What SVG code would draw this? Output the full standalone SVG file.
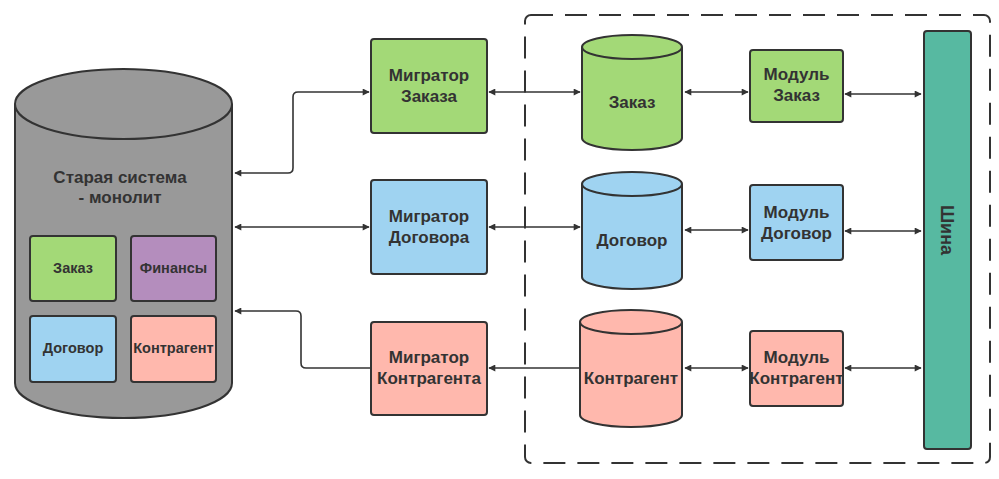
<svg xmlns="http://www.w3.org/2000/svg" width="999" height="479" viewBox="0 0 999 479">
<defs>
<marker id="ah" viewBox="0 0 10 10" refX="9" refY="5" markerWidth="10" markerHeight="7" markerUnits="userSpaceOnUse" orient="auto-start-reverse">
<path d="M0,0 L10,5 L0,10 z" fill="#333"/>
</marker>
<style>
.s{stroke:#333;stroke-width:2}
.g{fill:#a3d977}
.b{fill:#9fd3f1}
.p{fill:#ffb8ad}
.v{fill:#b48dbd}
.t{font-family:"Liberation Sans",Arial,sans-serif;font-weight:bold;font-size:17px;fill:#333;text-anchor:middle}
.sm{font-size:14.5px}
.c{fill:none;stroke:#333;stroke-width:1.6}
</style>
</defs>
<rect width="999" height="479" fill="#fff"/>
<rect x="525" y="15" width="465" height="448" rx="6" fill="none" stroke="#333" stroke-width="2" stroke-dasharray="22,12"/>
<g id="monolith">
<path class="s" fill="#999" d="M15,104 V383 A108.5,35 0 0 0 232,383 V104 A108.5,35 0 0 0 15,104 Z"/>
<path class="s" fill="none" d="M15,104 A108.5,35 0 0 0 232,104"/>
<text class="t" x="120" y="183">Старая система</text>
<text class="t" x="120" y="203">- монолит</text>
</g>
<g id="m-zakaz"><rect class="s g" x="30" y="236" width="86" height="65" rx="3"/><text class="t sm" x="73" y="273">Заказ</text></g>
<g id="m-finansy"><rect class="s v" x="131" y="236" width="85" height="65" rx="3"/><text class="t sm" x="173.5" y="273">Финансы</text></g>
<g id="m-dogovor"><rect class="s b" x="30" y="316" width="86" height="66" rx="3"/><text class="t sm" x="73" y="353">Договор</text></g>
<g id="m-kontragent"><rect class="s p" x="131" y="316" width="85" height="66" rx="3"/><text class="t sm" x="173.5" y="353">Контрагент</text></g>
<g id="mig-zakaz"><rect class="s g" x="371" y="39" width="116" height="94" rx="3"/><text class="t" x="429" y="81">Мигратор</text><text class="t" x="429" y="102">Заказа</text></g>
<g id="mig-dogovor"><rect class="s b" x="371" y="180" width="116" height="94" rx="3"/><text class="t" x="429" y="222">Мигратор</text><text class="t" x="429" y="243">Договора</text></g>
<g id="mig-kontragent"><rect class="s p" x="371" y="322" width="116" height="93" rx="3"/><text class="t" x="429" y="363">Мигратор</text><text class="t" x="429" y="384">Контрагента</text></g>
<g id="db-zakaz"><path class="s g" d="M582,47 V138 A50,12 0 0 0 682,138 V47 A50,12 0 0 0 582,47 Z"/><path class="s" fill="none" d="M582,47 A50,12 0 0 0 682,47"/><text class="t" x="632" y="108">Заказ</text></g>
<g id="db-dogovor"><path class="s b" d="M582,184 V277 A50,12 0 0 0 682,277 V184 A50,12 0 0 0 582,184 Z"/><path class="s" fill="none" d="M582,184 A50,12 0 0 0 682,184"/><text class="t" x="632" y="246">Договор</text></g>
<g id="db-kontragent"><path class="s p" d="M580,322 V415 A51,12 0 0 0 682,415 V322 A51,12 0 0 0 580,322 Z"/><path class="s" fill="none" d="M580,322 A51,12 0 0 0 682,322"/><text class="t" x="631" y="384">Контрагент</text></g>
<g id="mod-zakaz"><rect class="s g" x="750" y="50" width="93" height="72" rx="3"/><text class="t" x="796.5" y="80">Модуль</text><text class="t" x="796.5" y="101">Заказ</text></g>
<g id="mod-dogovor"><rect class="s b" x="750" y="185" width="93" height="75" rx="3"/><text class="t" x="796.5" y="218">Модуль</text><text class="t" x="796.5" y="239">Договор</text></g>
<g id="mod-kontragent"><rect class="s p" x="750" y="331" width="93" height="75" rx="3"/><text class="t" x="796.5" y="363">Модуль</text><text class="t" x="796.5" y="384">Контрагент</text></g>
<g id="bus"><rect class="s" fill="#57b9a1" x="924" y="31" width="47" height="418" rx="3"/><text class="t" style="font-size:18px" transform="translate(941,230) rotate(90)" x="0" y="0">Шина</text></g>
<g id="connectors">
<path class="c" marker-start="url(#ah)" marker-end="url(#ah)" d="M235,173 H288 Q293,173 293,168 V97 Q293,92 298,92 H369"/>
<path class="c" marker-start="url(#ah)" marker-end="url(#ah)" d="M235,227 H369"/>
<path class="c" marker-end="url(#ah)" d="M370,368 H306 Q301,368 301,363 V316 Q301,311 296,311 H235"/>
<path class="c" marker-start="url(#ah)" marker-end="url(#ah)" d="M580,92 H489"/>
<path class="c" marker-start="url(#ah)" marker-end="url(#ah)" d="M580,227 H489"/>
<path class="c" marker-end="url(#ah)" d="M579,368 H489"/>
<path class="c" marker-start="url(#ah)" marker-end="url(#ah)" d="M685,92 H748"/>
<path class="c" marker-start="url(#ah)" marker-end="url(#ah)" d="M685,230 H748"/>
<path class="c" marker-start="url(#ah)" marker-end="url(#ah)" d="M685,368 H748"/>
<path class="c" marker-start="url(#ah)" marker-end="url(#ah)" d="M845,94 H921"/>
<path class="c" marker-start="url(#ah)" marker-end="url(#ah)" d="M845,231 H921"/>
<path class="c" marker-start="url(#ah)" marker-end="url(#ah)" d="M845,368 H921"/>
</g>
</svg>
